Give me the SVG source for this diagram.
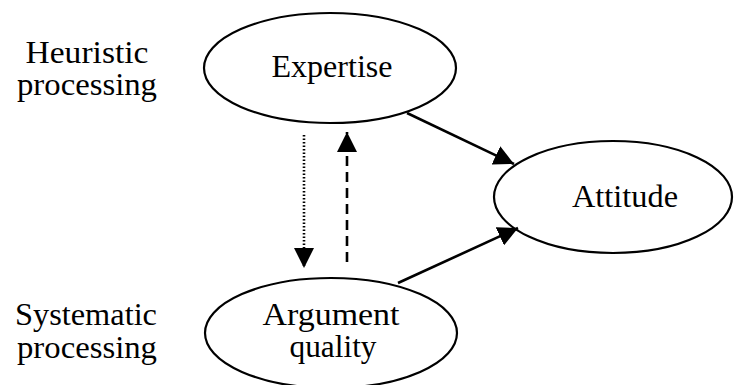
<svg xmlns="http://www.w3.org/2000/svg" width="734" height="385" viewBox="0 0 734 385">
<style>
.n{fill:#fff;stroke:#000;stroke-width:2.2}
.t{font-family:"Liberation Serif","Times New Roman",serif;font-size:31px;fill:#000;text-anchor:middle}
.c{stroke:#000;stroke-width:2.6;fill:none}
</style>
<defs>
<marker id="ah" viewBox="0 0 10 10" refX="10" refY="5" markerWidth="20" markerHeight="20" markerUnits="userSpaceOnUse" orient="auto">
<path d="M0,0 L10,5 L0,10 Z" fill="#000"/>
</marker>
</defs>
<rect width="734" height="385" fill="#fff"/>
<g id="label-heuristic">
<text class="t" x="87" y="63" textLength="123" lengthAdjust="spacingAndGlyphs">Heuristic</text>
<text class="t" x="87" y="95" textLength="140" lengthAdjust="spacingAndGlyphs">processing</text>
</g>
<g id="label-systematic">
<text class="t" x="86" y="325" textLength="142" lengthAdjust="spacingAndGlyphs">Systematic</text>
<text class="t" x="87" y="358" textLength="140" lengthAdjust="spacingAndGlyphs">processing</text>
</g>
<g id="expertise">
<ellipse class="n" cx="330" cy="68" rx="126" ry="55"/>
<text class="t" x="332" y="77" textLength="121" lengthAdjust="spacingAndGlyphs">Expertise</text>
</g>
<g id="attitude">
<ellipse class="n" cx="613" cy="197" rx="119" ry="56"/>
<text class="t" x="625" y="207" textLength="106" lengthAdjust="spacingAndGlyphs">Attitude</text>
</g>
<g id="argument-quality">
<ellipse class="n" cx="331" cy="333" rx="126" ry="55"/>
<text class="t" x="331" y="325" textLength="137" lengthAdjust="spacingAndGlyphs">Argument</text>
<text class="t" x="333" y="357" textLength="87" lengthAdjust="spacingAndGlyphs">quality</text>
</g>
<g id="connectors">
<line class="c" x1="407" y1="113" x2="514" y2="164" marker-end="url(#ah)"/>
<line class="c" x1="398" y1="283" x2="518" y2="228" marker-end="url(#ah)"/>
<line class="c" x1="304" y1="135" x2="304" y2="268" stroke-width="2" stroke-dasharray="1.5 2" marker-end="url(#ah)"/>
<line class="c" x1="347" y1="262" x2="347" y2="132" stroke-width="3" stroke-dasharray="10 6" marker-end="url(#ah)"/>
</g>
</svg>
